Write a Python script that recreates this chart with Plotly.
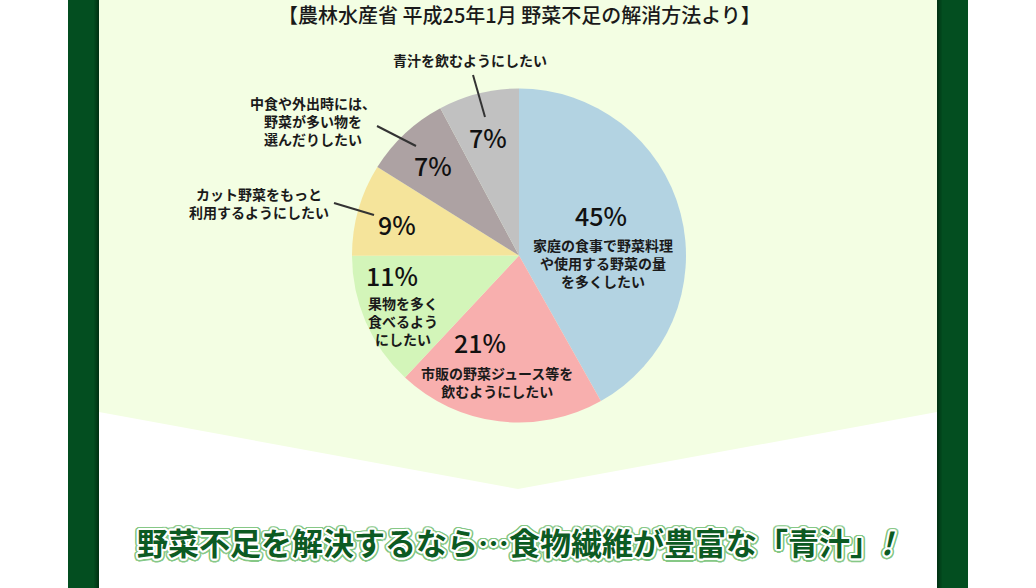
import math
import plotly.graph_objects as go

# ---- data ----
categories = [
    "家庭の食事で野菜料理や使用する野菜の量を多くしたい",
    "市販の野菜ジュース等を飲むようにしたい",
    "果物を多く食べるようにしたい",
    "カット野菜をもっと利用するようにしたい",
    "中食や外出時には、野菜が多い物を選んだりしたい",
    "青汁を飲むようにしたい",
]
# slice sizes as drawn in the picture (measured angles, %)
slice_values = [41.8, 20.1, 13.0, 8.9, 8.3, 7.8]
# percentages printed on the chart
percent_labels = ["45%", "21%", "11%", "9%", "7%", "7%"]
slice_colors = ["#b3d3e2", "#f8afae", "#d3f5b9", "#f5e49b", "#ada2a3", "#c1c1c1"]

title_text = "【農林水産省 平成25年1月 野菜不足の解消方法より】"
bottom_text = "野菜不足を解決するなら…食物繊維が豊富な「青汁」<i>!</i>"

W, H = 1036, 588
CX, CY, R = 519, 255.5, 167

fig = go.Figure()
fig.add_trace(go.Pie(
    values=slice_values,
    labels=categories,
    sort=False,
    direction="clockwise",
    rotation=0,
    marker=dict(colors=slice_colors, line=dict(width=0)),
    textinfo="none",
    hoverinfo="skip",
    showlegend=False,
    domain=dict(x=[(CX - R) / W, (CX + R) / W], y=[1 - (CY + R) / H, 1 - (CY - R) / H]),
))

shapes = []
# light green panel with arrow bottom
shapes.append(dict(type="path", xref="x", yref="y", layer="below",
                   path="M 99 0 L 937 0 L 937 412 L 518 489 L 99 412 Z",
                   fillcolor="#f3fee3", line=dict(width=0)))
# dark green side bars
GREEN = "#034e20"
shapes.append(dict(type="rect", xref="x", yref="y", layer="below", x0=68, x1=99, y0=0, y1=588,
                   fillcolor=GREEN, line=dict(width=0)))
shapes.append(dict(type="rect", xref="x", yref="y", layer="below", x0=937, x1=968, y0=0, y1=588,
                   fillcolor=GREEN, line=dict(width=0)))
# inner shading of bars
shade = ["#02481d", "#02431b", "#023d18", "#013715", "#013213"]
for i, c in enumerate(shade):
    shapes.append(dict(type="rect", xref="x", yref="y", layer="below", x0=94 + i, x1=95 + i, y0=0, y1=588,
                       fillcolor=c, line=dict(width=0)))
    shapes.append(dict(type="rect", xref="x", yref="y", layer="below", x0=941 - i, x1=942 - i, y0=0, y1=588,
                       fillcolor=c, line=dict(width=0)))

# leader lines for outside labels
leaders = [((473, 75), (485, 117)), ((377, 126), (416, 146)), ((334, 203), (374, 215))]
for (x0, y0), (x1, y1) in leaders:
    shapes.append(dict(type="line", xref="x", yref="y", layer="above", x0=x0, y0=y0, x1=x1, y1=y1,
                       line=dict(color="#333333", width=2)))

JP = "Noto Sans CJK JP"
TXT = "#1a1a1a"
ann = []
ann.append(dict(x=519, y=14, text=title_text, font=dict(family=JP, size=20, color=TXT, weight=500)))

# percent labels positions
pct_pos = [(601, 215), (480, 342), (392, 275), (397, 224), (433, 165), (488, 137)]
for (x, y), t in zip(pct_pos, percent_labels):
    ann.append(dict(x=x, y=y, text=t, font=dict(family=JP, size=25, color="#111111", weight=500)))

# descriptive labels
desc = [
    ((603, 263), "家庭の食事で野菜料理<br>や使用する野菜の量<br>を多くしたい"),
    ((497, 382), "市販の野菜ジュース等を<br>飲むようにしたい"),
    ((403, 321), "果物を多く<br>食べるよう<br>にしたい"),
    ((470, 60), "青汁を飲むようにしたい"),
    ((313, 121), "中食や外出時には、<br>野菜が多い物を<br>選んだりしたい"),
    ((259, 203), "カット野菜をもっと<br>利用するようにしたい"),
]
for (x, y), t in desc:
    ann.append(dict(x=x, y=y, text=t, font=dict(family=JP, size=14, color=TXT, weight="bold")))

# bottom catch copy with outlined text
sh = []
for k in range(16):
    a = 2 * math.pi * k / 16
    sh.append(f"{2*math.cos(a):.1f}px {2*math.sin(a):.1f}px 0 #ffffff")
for k in range(24):
    a = 2 * math.pi * k / 24
    sh.append(f"{3.5*math.cos(a):.1f}px {3.5*math.sin(a):.1f}px 0 #86c886")
ann.append(dict(x=516, y=541, text=bottom_text,
                font=dict(family=JP, size=31, color="#0c5a22", weight="bold", shadow=", ".join(sh))))

for a in ann:
    a.update(xref="x", yref="y", showarrow=False, xanchor="center", yanchor="middle")

fig.update_layout(
    width=W, height=H,
    margin=dict(l=0, r=0, t=0, b=0),
    paper_bgcolor="#ffffff",
    plot_bgcolor="rgba(0,0,0,0)",
    xaxis=dict(range=[0, W], visible=False, fixedrange=True),
    yaxis=dict(range=[H, 0], visible=False, fixedrange=True),
    shapes=shapes,
    annotations=ann,
)
fig.write_html("out.html")
